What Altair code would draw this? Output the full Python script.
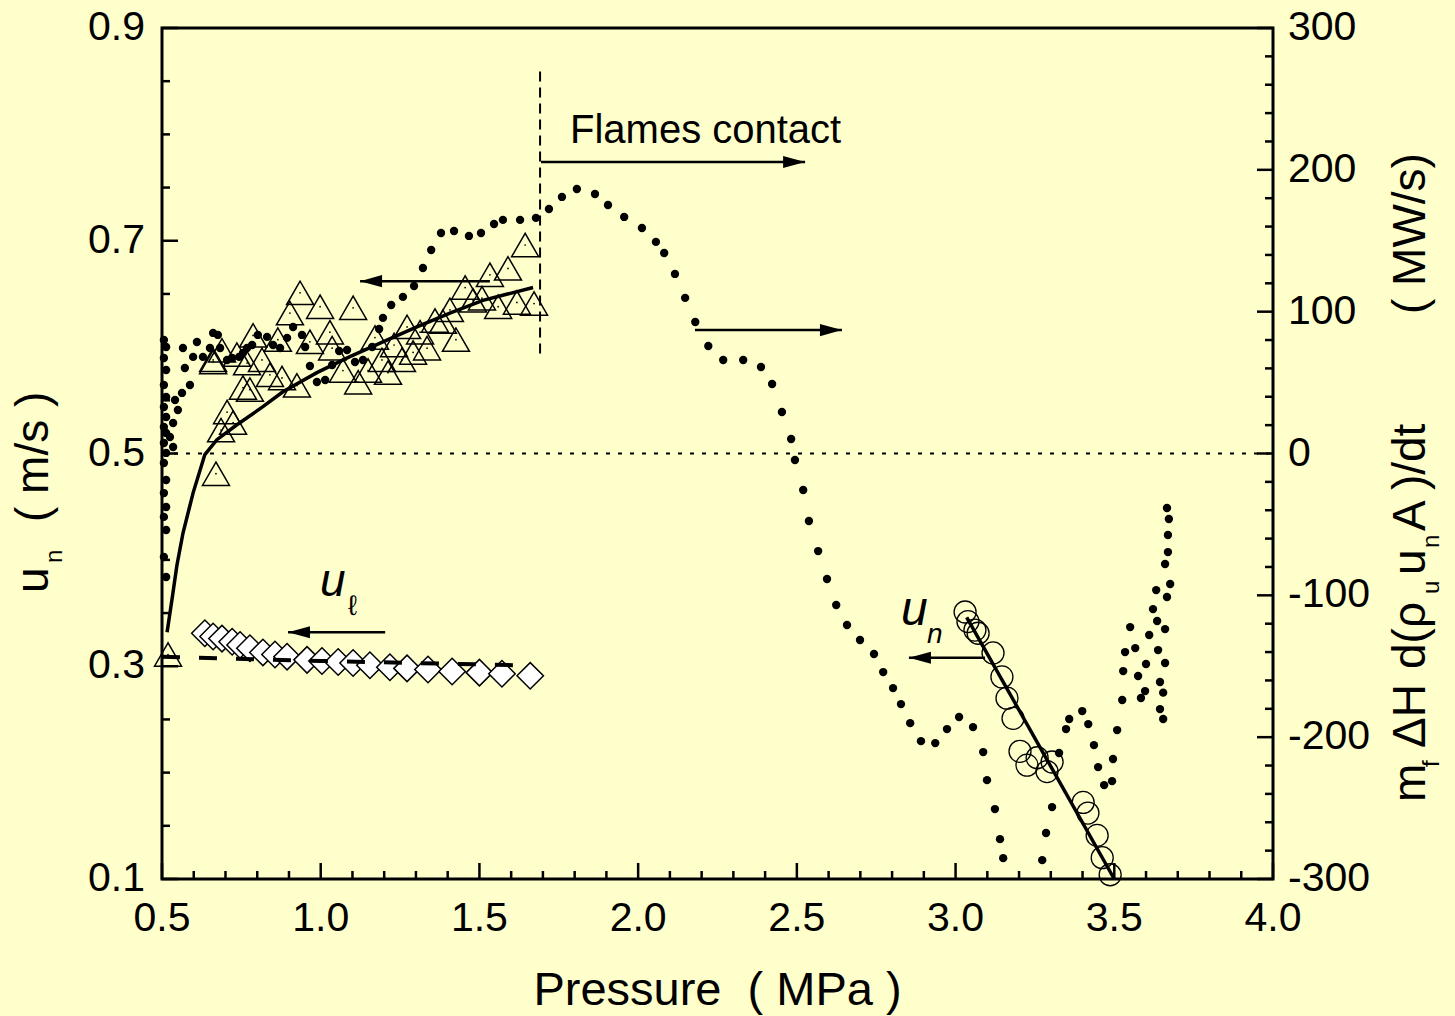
import altair as alt
import pandas as pd

FONT = "Liberation Sans"
BG = "#FFFFCC"

# ---------------- data ----------------
# open triangles: u_n before flames contact (left axis)
tri_p = [0.519, 0.670, 0.686, 0.705, 0.724, 0.755, 0.777, 0.661, 0.689, 0.736,
         0.768, 0.787, 0.815, 0.840, 0.865, 0.878, 0.903, 0.925, 0.935, 0.966,
         0.998, 1.029, 1.036, 1.070, 1.102, 1.118, 1.149, 1.171, 1.193, 1.212,
         1.231, 1.256, 1.272, 1.291, 1.313, 1.335, 1.360, 1.385, 1.407, 1.426,
         1.455, 1.480, 1.508, 1.533, 1.559, 1.590, 1.618, 1.644, 1.672, 0.661]
tri_u = [0.311, 0.481, 0.522, 0.539, 0.529, 0.562, 0.560, 0.588, 0.597, 0.593,
         0.585, 0.611, 0.588, 0.574, 0.607, 0.571, 0.632, 0.564, 0.651, 0.605,
         0.638, 0.614, 0.599, 0.578, 0.637, 0.567, 0.578, 0.609, 0.588, 0.576,
         0.602, 0.588, 0.619, 0.595, 0.614, 0.599, 0.625, 0.624, 0.635, 0.607,
         0.656, 0.644, 0.646, 0.668, 0.638, 0.674, 0.642, 0.696, 0.641, 0.586]

# diamonds: u_l (left axis)
dia_p = [0.635, 0.661, 0.689, 0.721, 0.746, 0.777, 0.818, 0.856, 0.894, 0.957,
         1.004, 1.055, 1.102, 1.155, 1.218, 1.272, 1.338, 1.414, 1.500, 1.571, 1.660]
dia_u = [0.331, 0.328, 0.326, 0.323, 0.320, 0.317, 0.313, 0.311, 0.309, 0.306,
         0.305, 0.304, 0.303, 0.301, 0.299, 0.298, 0.297, 0.295, 0.294, 0.293, 0.291]

# open circles: u_n after contact (left axis)
cir_p = [3.030, 3.039, 3.061, 3.071, 3.118, 3.146, 3.162, 3.181, 3.203,
         3.225, 3.257, 3.288, 3.304, 3.402, 3.417, 3.446, 3.462, 3.487]
cir_u = [0.351, 0.342, 0.334, 0.331, 0.3125, 0.290, 0.270, 0.251, 0.220,
         0.207, 0.214, 0.201, 0.210, 0.172, 0.162, 0.141, 0.120, 0.104]

# fitted curves (left axis)
fit_tri_p = [0.516, 0.532, 0.547, 0.566, 0.598, 0.635, 0.673, 0.736, 0.818,
             0.881, 0.988, 1.092, 1.196, 1.303, 1.407, 1.511, 1.669]
fit_tri_u = [0.332, 0.364, 0.395, 0.425, 0.463, 0.499, 0.513, 0.527, 0.544,
             0.558, 0.576, 0.591, 0.605, 0.619, 0.632, 0.644, 0.656]
fit_dia_p = [0.50, 1.00, 1.61]
fit_dia_u = [0.309, 0.305, 0.301]
fit_cir_p = [3.035, 3.500]
fit_cir_u = [0.346, 0.100]

# heat-release-rate dots (right axis, MW/s)
dot_p = [0.506, 0.513, 0.506, 0.513, 0.506, 0.513, 0.506, 0.513, 0.506, 0.513,
         0.506, 0.513, 0.506, 0.513, 0.506, 0.513, 0.506, 0.513, 0.506, 0.513,
         0.541, 0.550, 0.535, 0.563, 0.525, 0.535,
         0.566, 0.572, 0.598, 0.588, 0.610, 0.629, 0.651, 0.661, 0.676, 0.683,
         0.705, 0.721, 0.743, 0.755, 0.768, 0.784, 0.802, 0.831, 0.850, 0.872,
         0.894, 0.913, 0.941, 0.951, 0.966, 0.988, 1.014, 1.036, 1.058, 1.083,
         1.108, 1.133, 1.162, 1.184, 1.196, 1.222, 1.259, 1.294, 1.322, 1.348,
         1.379, 1.420, 1.467, 1.505, 1.546, 1.574, 1.628, 1.678, 1.719, 1.760,
         1.807, 1.864, 1.905, 1.956, 2.012, 2.056, 2.082, 2.116, 2.148, 2.180,
         2.221, 2.268, 2.331, 2.387, 2.422, 2.453, 2.482, 2.494, 2.520, 2.538,
         2.567, 2.595, 2.624, 2.658, 2.699, 2.743, 2.772, 2.803, 2.828, 2.857,
         2.891, 2.936, 2.973, 3.011, 3.055, 3.087, 3.099, 3.124, 3.140, 3.150,
         3.273, 3.285, 3.304, 3.326, 3.348, 3.358, 3.399, 3.418, 3.436, 3.449,
         3.468, 3.493, 3.496, 3.509, 3.525, 3.528, 3.534, 3.550, 3.566, 3.575,
         3.584, 3.597, 3.600, 3.610, 3.622, 3.632, 3.635, 3.638, 3.644, 3.644,
         3.654, 3.654, 3.660, 3.660, 3.666, 3.676, 3.660, 3.669, 3.669, 3.672, 3.666]
dot_r = [80.0, 75.1, 67.3, 58.9, 48.3, 39.8, 32.8, 25.7, 18.7, 14.5,
         7.4, 0.4, -6.7, -18.7, -27.9, -37.7, -44.7, -53.9, -73.0, -87.1,
         37.7, 30.7, 21.5, 42.7, 11.6, 4.6,
         74.4, 60.3, 68.1, 48.3, 78.6, 68.1, 74.4, 85.0, 83.6, 74.4,
         65.9, 67.3, 68.1, 70.9, 74.4, 76.5, 83.6, 82.2, 76.5, 74.4,
         81.5, 89.2, 83.6, 75.1, 61.7, 50.4, 51.8, 62.4, 72.3, 73.0,
         64.5, 65.9, 75.1, 87.8, 95.6, 104.7, 110.4, 118.1, 130.8, 143.5,
         155.5, 156.9, 153.4, 155.5, 161.8, 164.7, 164.7, 166.1, 172.4, 180.9,
         186.5, 183.0, 175.2, 166.8, 159.0, 149.2, 141.4, 126.6, 109.7, 92.7,
         75.8, 65.9, 65.9, 61.0, 49.0, 29.3, 10.2, -4.6, -25.7, -47.6,
         -68.8, -88.5, -106.8, -120.9, -131.5, -141.4, -154.1, -165.4, -176.7, -190.1,
         -202.8, -204.2, -194.3, -185.8, -192.9, -210.5, -230.3, -250.7, -271.9, -285.3,
         -286.7, -267.6, -249.3, -211.2, -194.3, -187.2, -181.6, -190.8, -205.6, -221.1,
         -233.8, -231.0, -215.4, -195.0, -173.8, -153.4, -140.0, -122.4, -137.2, -156.9,
         -172.4, -167.5, -148.4, -128.0, -109.7, -96.3, -118.1, -138.6, -161.1, -180.2,
         -187.2, -168.6, -147.7, -123.8, -101.2, -92.0, -77.9, -69.5, -57.5, -46.2, -38.4]

# reference lines and annotation arrows (data coordinates, left axis)
zero_line_u = 0.5
contact_p = 1.691
contact_u = [0.859, 0.591]
arrow_tail_p = [1.694, 1.533, 2.179, 1.203, 3.093]
arrow_tip_p = [2.526, 1.124, 2.642, 0.897, 2.853]
arrow_u = [0.774, 0.662, 0.616, 0.332, 0.308]

# axes: tick values and their labels
x_major = [0.5, 1.0, 1.5, 2.0, 2.5, 3.0, 3.5, 4.0]
x_labels = ["0.5", "1.0", "1.5", "2.0", "2.5", "3.0", "3.5", "4.0"]
x_minor = [0.6, 0.7, 0.8, 0.9, 1.1, 1.2, 1.3, 1.4, 1.6, 1.7, 1.8, 1.9,
           2.1, 2.2, 2.3, 2.4, 2.6, 2.7, 2.8, 2.9, 3.1, 3.2, 3.3, 3.4,
           3.6, 3.7, 3.8, 3.9]
yl_major = [0.1, 0.3, 0.5, 0.7, 0.9]
yl_labels = ["0.1", "0.3", "0.5", "0.7", "0.9"]
yl_minor = [0.15, 0.2, 0.25, 0.35, 0.4, 0.45, 0.55, 0.6, 0.65, 0.75, 0.8, 0.85]
yr_major = [-300, -200, -100, 0, 100, 200, 300]
yr_labels = ["-300", "-200", "-100", "0", "100", "200", "300"]
yr_minor = [-280, -260, -240, -220, -180, -160, -140, -120, -80, -60, -40, -20,
            20, 40, 60, 80, 120, 140, 160, 180, 220, 240, 260, 280]

# ---------------- layout ----------------
W, H = 1111, 851
LBL = 41
XS = alt.Scale(domain=[0.5, 4.0], nice=False, zero=False)
YL = alt.Scale(domain=[0.1, 0.9], nice=False, zero=False)
YR = alt.Scale(domain=[-300, 300], nice=False, zero=False)

df_tri = pd.DataFrame({"p": tri_p, "u": tri_u})
df_dia = pd.DataFrame({"p": dia_p, "u": dia_u})
df_cir = pd.DataFrame({"p": cir_p, "u": cir_u})
df_ft = pd.DataFrame({"p": fit_tri_p, "u": fit_tri_u})
df_fd = pd.DataFrame({"p": fit_dia_p, "u": fit_dia_u})
df_fc = pd.DataFrame({"p": fit_cir_p, "u": fit_cir_u})
df_dot = pd.DataFrame({"p": dot_p, "r": dot_r})
df_arr = pd.DataFrame({"p1": arrow_tail_p, "p2": arrow_tip_p, "u": arrow_u})
df_one = pd.DataFrame({"k": [0]})


def X(field="p"):
    return alt.X(f"{field}:Q", scale=XS, axis=None)


def YLf(field="u"):
    return alt.Y(f"{field}:Q", scale=YL, axis=None)


zero_line = alt.Chart(df_one).mark_rule(color="black", strokeWidth=2, strokeDash=[4, 8]).encode(
    x=alt.datum(0.5, scale=XS, axis=None), x2=alt.datum(4.0),
    y=alt.datum(zero_line_u, scale=YL, axis=None))
contact_line = alt.Chart(df_one).mark_rule(color="black", strokeWidth=2, strokeDash=[10, 6]).encode(
    x=alt.datum(contact_p, scale=XS, axis=None),
    y=alt.datum(contact_u[0], scale=YL, axis=None), y2=alt.datum(contact_u[1]))

fit_t = alt.Chart(df_ft).mark_line(color="black", strokeWidth=3.5).encode(x=X(), y=YLf())
fit_d = alt.Chart(df_fd).mark_line(color="black", strokeWidth=4, strokeDash=[18, 19]).encode(x=X(), y=YLf())
fit_c = alt.Chart(df_fc).mark_line(color="black", strokeWidth=3.5).encode(x=X(), y=YLf())

tri = alt.Chart(df_tri).mark_point(shape="triangle-up", filled=False, color="black",
                                   size=729, strokeWidth=1.5, opacity=1).encode(x=X(), y=YLf())
tri_c = alt.Chart(df_tri).mark_point(shape="circle", filled=True, color="black",
                                     size=3, opacity=1).encode(x=X(), y=YLf())
dia = alt.Chart(df_dia).mark_point(shape="diamond", filled=True, fill="white",
                                   stroke="black", size=700, strokeWidth=1.5, opacity=1).encode(
    x=X(), y=YLf())
cir = alt.Chart(df_cir).mark_point(shape="circle", filled=False, color="black",
                                   size=484, strokeWidth=1.3, opacity=1).encode(x=X(), y=YLf())

arr_lines = alt.Chart(df_arr).mark_rule(color="black", strokeWidth=2.5).encode(
    x=X("p1"), x2="p2:Q", y=YLf())
RIGHT_HEAD = "M0,0L-2,-0.55L-2,0.55Z"
LEFT_HEAD = "M0,0L2,-0.55L2,0.55Z"
arr_heads_r = alt.Chart(df_arr).transform_filter("datum.p2 > datum.p1").mark_point(
    shape=RIGHT_HEAD, filled=True, color="black", size=484, opacity=1, strokeWidth=0).encode(
    x=X("p2"), y=YLf())
arr_heads_l = alt.Chart(df_arr).transform_filter("datum.p2 < datum.p1").mark_point(
    shape=LEFT_HEAD, filled=True, color="black", size=484, opacity=1, strokeWidth=0).encode(
    x=X("p2"), y=YLf())


# inward ticks
def ticks_y(values, scale, x0, x1, name):
    d = pd.DataFrame({name: values})
    return alt.Chart(d).mark_rule(color="black", strokeWidth=2.5).encode(
        y=alt.Y(f"{name}:Q", scale=scale, axis=None), x=alt.value(x0), x2=alt.value(x1))


def ticks_x(values, length):
    d = pd.DataFrame({"t": values})
    return alt.Chart(d).mark_rule(color="black", strokeWidth=2.5).encode(
        x=alt.X("t:Q", scale=XS, axis=None), y=alt.value(H), y2=alt.value(H - length))


tl_major = ticks_y(yl_major, YL, 0, 16, "v")
tl_minor = ticks_y(yl_minor, YL, 0, 8, "v")
tx_major = ticks_x(x_major, 16)
tx_minor = ticks_x(x_minor, 8)

# tick labels as text through the scales
x_lab = alt.Chart(pd.DataFrame({"t": x_major, "s": x_labels})).mark_text(
    font=FONT, fontSize=LBL, align="center", baseline="top", color="black").encode(
    x=alt.X("t:Q", scale=XS, axis=None), y=alt.value(H + 20), text="s:N")
yl_lab = alt.Chart(pd.DataFrame({"v": yl_major, "s": yl_labels})).mark_text(
    font=FONT, fontSize=LBL, align="right", baseline="middle", color="black").encode(
    y=alt.Y("v:Q", scale=YL, axis=None), x=alt.value(-17), text="s:N")


def txt(text, x, y, size, angle=0, italic=False, align="left"):
    return alt.Chart(df_one).mark_text(
        text=text, font=FONT, fontSize=size, angle=angle, align=align,
        baseline="alphabetic", color="black",
        fontStyle="italic" if italic else "normal").encode(
        x=alt.value(x), y=alt.value(y))


texts = [
    txt("Flames contact", 408, 115, 40),
    txt("u", 158, 568, 46, italic=True),
    txt("\u2113", 186, 587, 28),
    txt("u", 739, 597, 48, italic=True),
    txt("n", 765, 615, 28, italic=True),
    txt("Pressure\u00a0 ( MPa )", W / 2, 977, 47, align="center"),
    # left axis title (rotated)
    txt("u", -114, 565, 46, angle=270),
    txt("n", -100, 535, 24, angle=270),
    txt("( m/s )", -114, 494, 46, angle=270),
    # right axis title (rotated)
    txt("m", 1263, 774, 46, angle=270),
    txt("f", 1277, 739, 24, angle=270),
    txt("\u0394H", 1263, 720, 46, angle=270),
    txt("d(\u03c1", 1263, 641, 46, angle=270),
    txt("u", 1277, 566, 24, angle=270),
    txt("u", 1263, 547, 46, angle=270),
    txt("n", 1277, 520, 24, angle=270),
    txt("A )/dt", 1263, 503, 46, angle=270),
    txt("( MW/s)", 1263, 286, 46, angle=270),
]

left = alt.layer(zero_line, contact_line, tri, tri_c, dia, cir, fit_t, fit_d, fit_c,
                 arr_lines, arr_heads_r, arr_heads_l, tl_major, tl_minor,
                 tx_major, tx_minor, x_lab, yl_lab, *texts)

dots = alt.Chart(df_dot).mark_point(shape="circle", filled=True, color="black",
                                    size=70, opacity=1, strokeWidth=0).encode(
    x=X(), y=alt.Y("r:Q", scale=YR, axis=None))
tr_major = ticks_y(yr_major, YR, W, W - 16, "w")
tr_minor = ticks_y(yr_minor, YR, W, W - 8, "w")
yr_lab = alt.Chart(pd.DataFrame({"w": yr_major, "s": yr_labels})).mark_text(
    font=FONT, fontSize=LBL, align="left", baseline="middle", color="black").encode(
    y=alt.Y("w:Q", scale=YR, axis=None), x=alt.value(W + 15), text="s:N")
right = alt.layer(dots, tr_major, tr_minor, yr_lab)

chart = alt.layer(left, right).resolve_scale(y="independent").properties(
    width=W, height=H,
    autosize=alt.AutoSizeParams(type="none"),
    padding={"left": 162, "top": 28, "right": 182, "bottom": 137},
    background=BG,
).configure_view(stroke="black", strokeWidth=3)

chart.save("out.html", embed_options={"renderer": "svg", "actions": False})
